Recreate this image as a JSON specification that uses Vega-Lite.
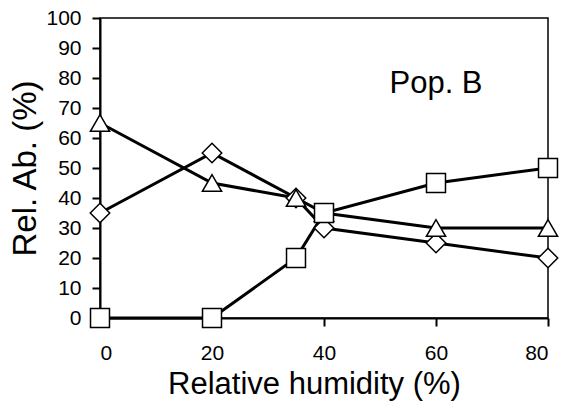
{
  "$schema": "https://vega.github.io/schema/vega-lite/v6.json",
  "width": 448,
  "height": 300,
  "autosize": {"type": "none"},
  "padding": {"left": 100, "top": 18, "right": 20, "bottom": 92},
  "background": "white",
  "config": {
    "font": "Liberation Sans",
    "view": {"stroke": "black", "strokeWidth": 1.5},
    "axis": {
      "domainColor": "black", "domainWidth": 2, "tickColor": "black", "tickWidth": 2, "tickSize": 8,
      "labelColor": "black", "labelFontSize": 21, "labelFont": "Liberation Sans",
      "titleColor": "black", "titleFont": "Liberation Sans", "titleFontWeight": "normal",
      "grid": false
    }
  },
  "data": {"values": [
    {"rh": 0, "ab": 35, "s": "diamond"}, {"rh": 20, "ab": 55, "s": "diamond"}, {"rh": 35, "ab": 40, "s": "diamond"}, {"rh": 40, "ab": 30, "s": "diamond"}, {"rh": 60, "ab": 25, "s": "diamond"}, {"rh": 80, "ab": 20, "s": "diamond"},
    {"rh": 0, "ab": 65, "s": "triangle"}, {"rh": 20, "ab": 45, "s": "triangle"}, {"rh": 35, "ab": 40, "s": "triangle"}, {"rh": 40, "ab": 35, "s": "triangle"}, {"rh": 60, "ab": 30, "s": "triangle"}, {"rh": 80, "ab": 30, "s": "triangle"},
    {"rh": 0, "ab": 0, "s": "square"}, {"rh": 20, "ab": 0, "s": "square"}, {"rh": 35, "ab": 20, "s": "square"}, {"rh": 40, "ab": 35, "s": "square"}, {"rh": 60, "ab": 45, "s": "square"}, {"rh": 80, "ab": 50, "s": "square"}
  ]},
  "encoding": {
    "x": {"field": "rh", "type": "quantitative", "scale": {"domain": [0, 80], "nice": false}, "axis": {"values": [0, 20, 40, 60, 80], "title": "Relative humidity (%)", "titleFontSize": 31, "titleX": 214, "labelPadding": 16, "titlePadding": 6}},
    "y": {"field": "ab", "type": "quantitative", "scale": {"domain": [0, 100], "nice": false}, "axis": {"values": [0,10,20,30,40,50,60,70,80,90,100], "title": "Rel. Ab. (%)", "titleFontSize": 33, "labelPadding": 11, "titlePadding": 3}}
  },
  "layer": [
    {"mark": {"type": "line", "color": "black", "strokeWidth": 3}, "encoding": {"detail": {"field": "s"}}},
    {"mark": {"type": "point", "filled": true, "fill": "white", "stroke": "black", "strokeWidth": 1.5, "opacity": 1},
     "encoding": {
       "shape": {"field": "s", "type": "nominal", "scale": {"domain": ["diamond", "triangle", "square"], "range": ["diamond", "triangle-up", "square"]}, "legend": null},
       "size": {"field": "s", "type": "nominal", "scale": {"domain": ["diamond", "triangle", "square"], "range": [380, 360, 330]}, "legend": null}
     }},
    {"data": {"values": [{"rh": 60, "ab": 75, "t": "Pop. B"}]},
     "mark": {"type": "text", "fontSize": 31, "font": "Liberation Sans", "color": "black", "align": "center", "baseline": "alphabetic"},
     "encoding": {"text": {"field": "t"}}}
  ]
}
